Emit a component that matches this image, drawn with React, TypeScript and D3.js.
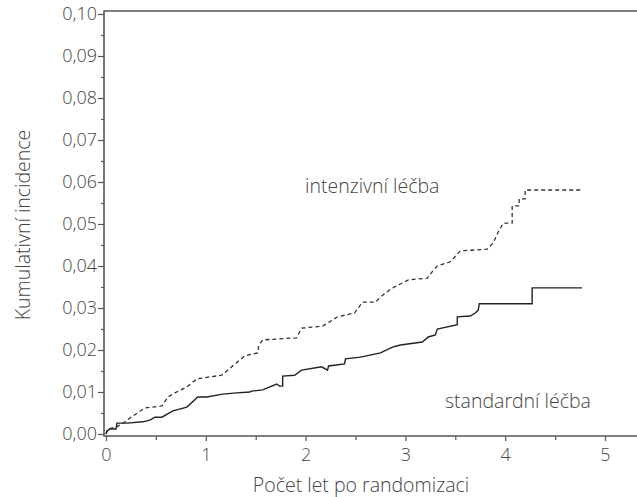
import * as d3 from 'd3';
import { useEffect, useRef } from 'react';

// cumulative incidence (years after randomisation, incidence)
const intensiveYears = [0, 0.02, 0.11, 0.19, 0.24, 0.39, 0.47, 0.56, 0.62, 0.69, 0.81, 0.91, 1.04, 1.16, 1.26, 1.39, 1.52, 1.53, 1.57, 1.71, 1.91, 1.96, 2.17, 2.24, 2.32, 2.49, 2.57, 2.7, 2.75, 2.85, 3.03, 3.22, 3.28, 3.32, 3.45, 3.55, 3.82, 3.88, 3.93, 3.98, 4.07, 4.07, 4.14, 4.14, 4.2, 4.2, 4.77];
const intensiveValues = [0, 0.0012, 0.0017, 0.0029, 0.0038, 0.0062, 0.0064, 0.0067, 0.0088, 0.0098, 0.0112, 0.0131, 0.0136, 0.014, 0.016, 0.0186, 0.0193, 0.021, 0.0224, 0.0226, 0.0229, 0.0252, 0.0257, 0.0267, 0.0279, 0.0288, 0.0314, 0.0314, 0.0326, 0.0345, 0.0367, 0.0371, 0.039, 0.04, 0.041, 0.0436, 0.044, 0.0455, 0.0481, 0.0502, 0.0502, 0.0543, 0.0543, 0.056, 0.056, 0.0581, 0.0581];

const standardYears = [0, 0.01, 0.04, 0.1, 0.11, 0.21, 0.37, 0.44, 0.49, 0.56, 0.67, 0.81, 0.92, 1.01, 1.17, 1.31, 1.44, 1.46, 1.57, 1.71, 1.74, 1.77, 1.77, 1.89, 1.96, 2.16, 2.22, 2.23, 2.39, 2.4, 2.55, 2.75, 2.87, 2.95, 3.17, 3.23, 3.3, 3.32, 3.52, 3.52, 3.65, 3.7, 3.73, 3.74, 4.27, 4.27, 4.77];
const standardValues = [0, 0.0007, 0.0012, 0.0012, 0.0026, 0.0026, 0.0029, 0.0033, 0.004, 0.004, 0.0055, 0.0064, 0.0088, 0.0088, 0.0095, 0.0098, 0.01, 0.0102, 0.0105, 0.0119, 0.0114, 0.0114, 0.0138, 0.014, 0.0152, 0.016, 0.0152, 0.0162, 0.0167, 0.0179, 0.0183, 0.0193, 0.0207, 0.0212, 0.0219, 0.0231, 0.0236, 0.025, 0.026, 0.0279, 0.0281, 0.0288, 0.0295, 0.031, 0.031, 0.0348, 0.0348];

const yTicks = [0, 0.01, 0.02, 0.03, 0.04, 0.05, 0.06, 0.07, 0.08, 0.09, 0.1];
const xTicks = [0, 1, 2, 3, 4, 5];

const FONT = '"Open Sans", "Noto Sans", sans-serif';
const AXIS = '#555';
const TEXT = '#444';

export default function App() {
  const ref = useRef<SVGSVGElement>(null);

  useEffect(() => {
    const svg = d3.select(ref.current);
    svg.selectAll('*').remove();

    const width = 637;
    const height = 497;
    const left = 104;
    const top = 11;
    const bottom = 436;

    const x = d3.scaleLinear().domain([0, 5]).range([106, 605]);
    const y = d3.scaleLinear().domain([0, 0.1]).range([434, 14]);

    svg.attr('width', width).attr('height', height);

    const fmt = (d: number) => d3.format('.2f')(d).replace('.', ',');

    // minor y ticks
    svg.append('g')
      .attr('transform', `translate(${left},0)`)
      .call(d3.axisLeft(y).tickValues(d3.range(0.005, 0.1, 0.01)).tickSize(3).tickFormat(() => ''))
      .call(g => g.select('.domain').remove())
      .call(g => g.selectAll('line').attr('stroke', AXIS).attr('stroke-width', 1.2));

    // Y-axis
    svg.append('g')
      .attr('transform', `translate(${left},0)`)
      .call(d3.axisLeft(y).tickValues(yTicks).tickSize(6).tickPadding(1).tickFormat(d => fmt(+d)))
      .call(g => g.select('.domain').remove())
      .call(g => g.selectAll('line').attr('stroke', AXIS).attr('stroke-width', 1.2))
      .call(g => g.selectAll('text')
        .style('font-family', FONT)
        .style('font-size', '18px')
        .style('font-weight', '300')
        .attr('fill', TEXT));

    // minor x ticks
    svg.append('g')
      .attr('transform', `translate(0,${bottom})`)
      .call(d3.axisBottom(x).tickValues([0.5, 1.5, 2.5, 3.5, 4.5]).tickSize(4).tickFormat(() => ''))
      .call(g => g.select('.domain').remove())
      .call(g => g.selectAll('line').attr('stroke', AXIS).attr('stroke-width', 1.2));

    // X-axis
    svg.append('g')
      .attr('transform', `translate(0,${bottom})`)
      .call(d3.axisBottom(x).tickValues(xTicks).tickSize(5).tickPadding(7).tickFormat(d3.format('d')))
      .call(g => g.select('.domain').remove())
      .call(g => g.selectAll('line').attr('stroke', AXIS).attr('stroke-width', 1.2))
      .call(g => g.selectAll('text')
        .style('font-family', FONT)
        .style('font-size', '18px')
        .style('font-weight', '300')
        .attr('fill', TEXT));

    // frame: left, bottom, top
    svg.append('path')
      .attr('d', `M${width},${top}H${left}V${bottom}H${width}`)
      .attr('fill', 'none')
      .attr('stroke', AXIS)
      .attr('stroke-width', 1.6);

    const line = d3.line<[number, number]>().x(d => x(d[0])).y(d => y(d[1]));

    svg.append('path')
      .datum(d3.zip(intensiveYears, intensiveValues) as [number, number][])
      .attr('d', line)
      .attr('fill', 'none')
      .attr('stroke', '#333')
      .attr('stroke-width', 1.3)
      .attr('stroke-dasharray', '4,3');

    svg.append('path')
      .datum(d3.zip(standardYears, standardValues) as [number, number][])
      .attr('d', line)
      .attr('fill', 'none')
      .attr('stroke', '#222')
      .attr('stroke-width', 1.4);

    const label = (tx: number, ty: number, s: string, anchor = 'start') =>
      svg.append('text')
        .attr('x', tx)
        .attr('y', ty)
        .attr('text-anchor', anchor)
        .style('font-family', FONT)
        .style('font-size', '19.5px')
        .style('font-weight', '300')
        .attr('fill', TEXT)
        .text(s);

    label(305, 193, 'intenzivní léčba');
    label(445, 408, 'standardní léčba');
    label(361, 492, 'Počet let po randomizaci', 'middle');
    label(0, 0, 'Kumulativní incidence', 'middle')
      .attr('transform', 'translate(30,225) rotate(-90)');
  }, []);

  return <svg ref={ref} style={{ display: 'block', position: 'absolute', left: 0, top: 0 }} />;
}
